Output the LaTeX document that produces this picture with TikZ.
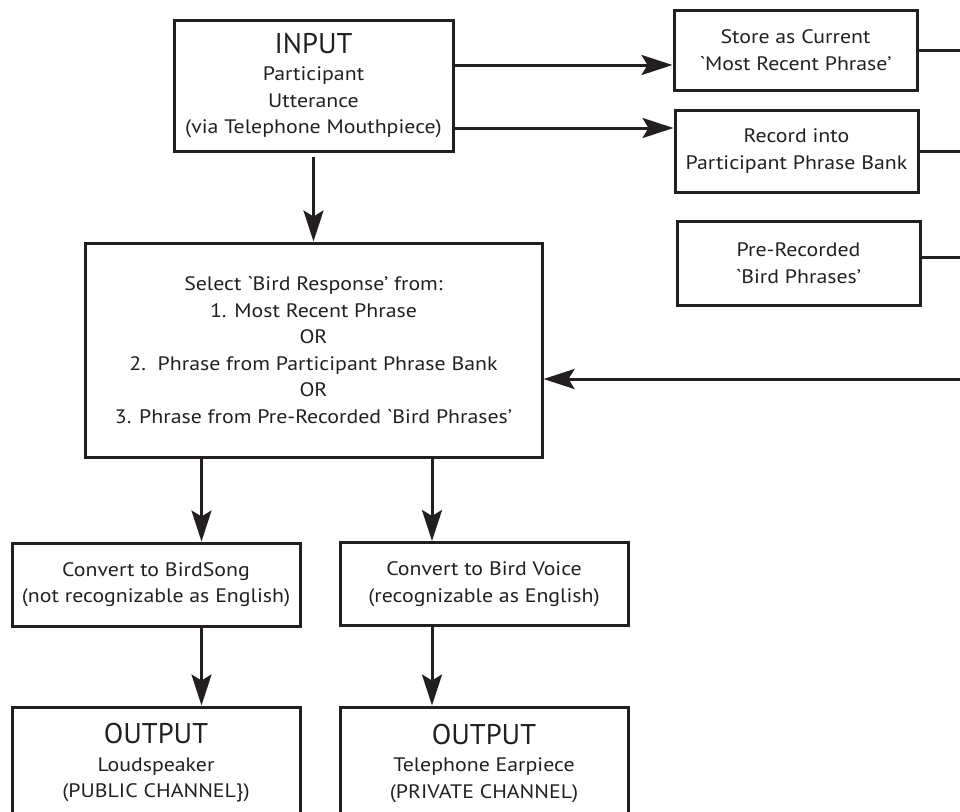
\documentclass[tikz,border=0pt]{standalone}
\usepackage{fontspec}
\setmainfont[FakeStretch=1.12]{PT Sans}
\newfontfamily\headfont{PT Sans}
\usetikzlibrary{arrows.meta}
\definecolor{ink}{HTML}{231F20}
\tikzset{
  box/.style={draw=ink, line width=3pt, inner sep=0pt, align=center,
    text=ink, font=\fontsize{19.5}{26.5}\selectfont},
  link/.style={draw=ink, line width=3pt},
  flow/.style={link, -{Stealth[length=31pt, width=20pt, inset=6pt]}}
}
\newcommand{\bigline}[1]{{\headfont\fontsize{28.5}{30}\selectfont #1}\\[1pt]}
\newcommand{\bq}{\textasciigrave}
\begin{document}
\begin{tikzpicture}[x=1pt, y=-1pt]
  \useasboundingbox (0,0) rectangle (960,811);
  \clip (0,0) rectangle (960,811);

  % boxes
  \node[box, minimum width=279, minimum height=131] (input) at (313.5,85.5)
    {\bigline{INPUT}Participant\\Utterance\\(via Telephone Mouthpiece)};
  \node[box, minimum width=243, minimum height=80] (store) at (795.5,50)
    {Store as Current\\\bq Most Recent Phrase'};
  \node[box, minimum width=243, minimum height=82] (record) at (796.5,151)
    {Record into\\Participant Phrase Bank};
  \node[box, minimum width=243, minimum height=84] (prerec) at (798.5,263)
    {Pre-Recorded\\\bq Bird Phrases'};
  \node[box, minimum width=457, minimum height=214] (select) at (313.5,350)
    {Select \bq Bird Response' from:\\1. Most Recent Phrase\\OR\\2.\ \ Phrase from Participant Phrase Bank\\OR\\3. Phrase from Pre-Recorded \bq Bird Phrases'};
  \node[box, minimum width=288, minimum height=83] (song) at (156,584.5)
    {Convert to BirdSong\\(not recognizable as English)};
  \node[box, minimum width=288, minimum height=83] (voice) at (484,584)
    {Convert to Bird Voice\\(recognizable as English)};
  \node[box, minimum width=288, minimum height=112] (outpub) at (156,763)
    {\bigline{OUTPUT}Loudspeaker\\(PUBLIC CHANNEL\})};
  \node[box, minimum width=288, minimum height=112] (outpriv) at (484,763)
    {\bigline{OUTPUT}Telephone Earpiece\\(PRIVATE CHANNEL)};

  % loose ends at the right margin
  \coordinate (e1) at (960,50);
  \coordinate (e2) at (960,151);
  \coordinate (e3) at (960,257);
  \coordinate (e4) at (960,379);

  % connectors
  \draw[flow] (input.east |- 0,65) -- (store.west |- 0,65);
  \draw[flow] (input.east |- 0,128) -- (record.west |- 0,128);
  \draw[flow] ([yshift=-4pt]input.south) -- (select.north);
  \draw[link] (store.east) -- (e1);
  \draw[link] (record.east) -- (e2);
  \draw[link] (prerec.east |- e3) -- (e3);
  \draw[flow] (e4) -- (select.east |- e4);
  \draw[flow] (select.south -| 201.5,0) -- (song.north -| 201.5,0);
  \draw[flow] (select.south -| 432,0) -- (voice.north -| 432,0);
  \draw[flow] (song.south -| 201.5,0) -- (outpub.north -| 201.5,0);
  \draw[flow] (voice.south -| 432,0) -- (outpriv.north -| 432,0);
\end{tikzpicture}
\end{document}
